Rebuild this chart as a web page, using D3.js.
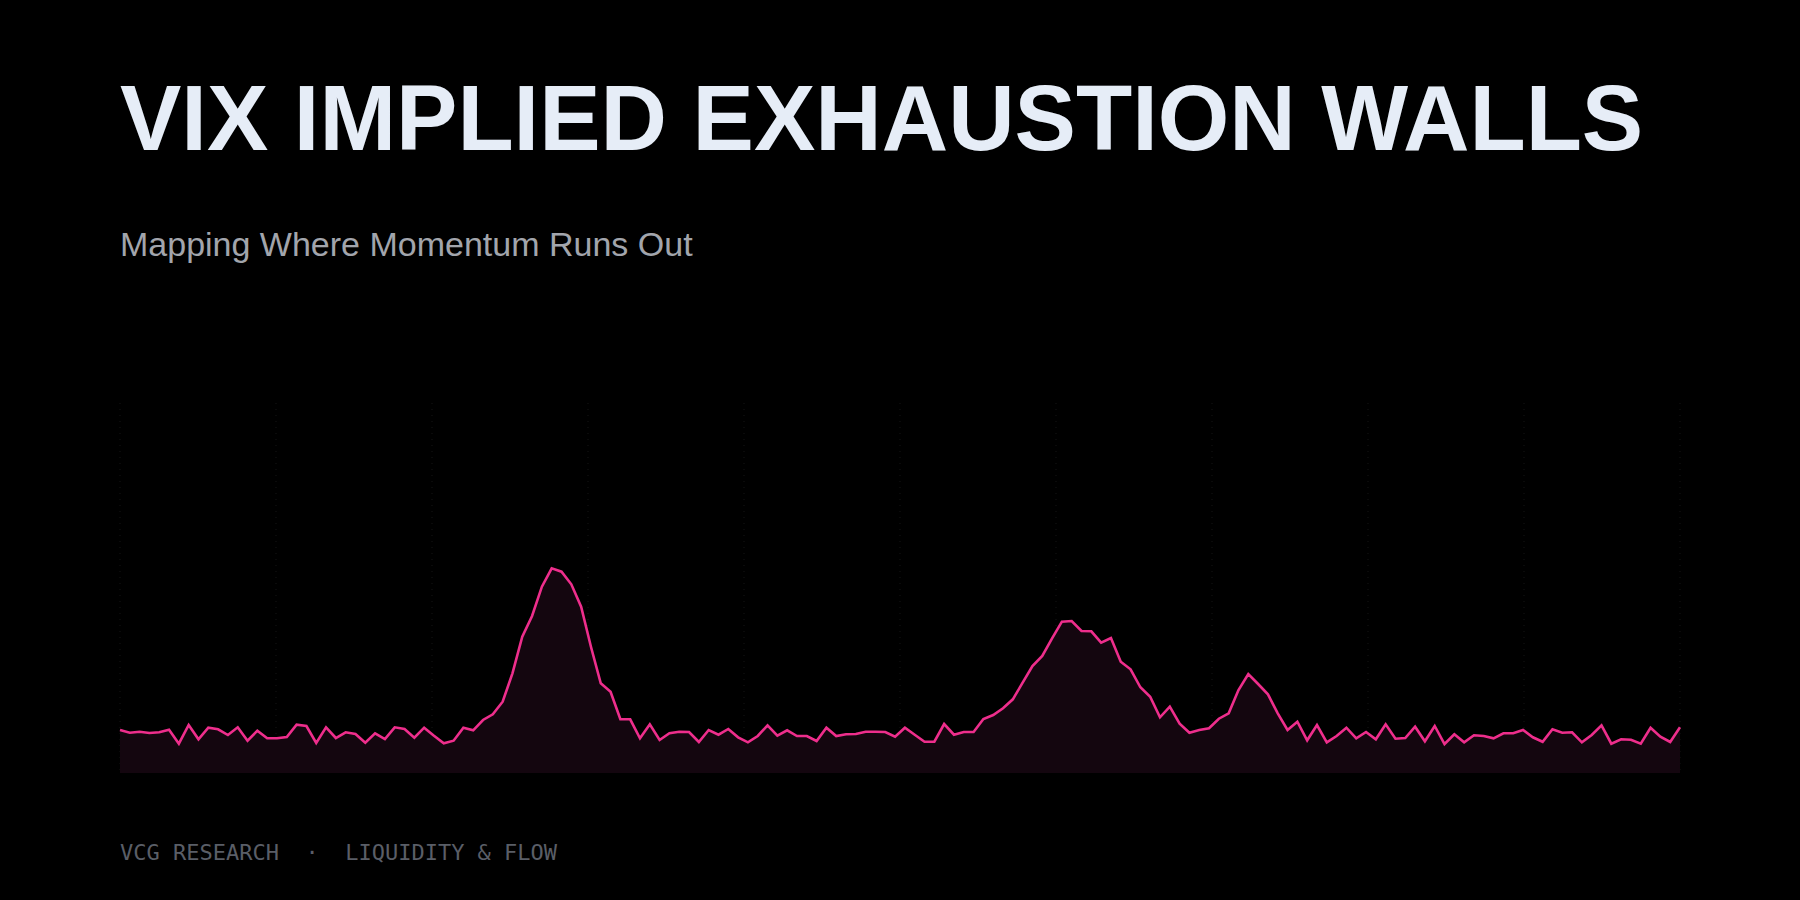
<!DOCTYPE html>
<html>
<head>
<meta charset="utf-8">
<script src="https://cdn.jsdelivr.net/npm/d3@7"></script>
<style>
  html, body { margin: 0; padding: 0; background: #000; }
  svg { display: block; }
</style>
</head>
<body>
<svg id="chart" width="1800" height="900"></svg>
<script>
const titleText = "VIX IMPLIED EXHAUSTION WALLS";
const subtitleText = "Mapping Where Momentum Runs Out";
const footerText = "VCG RESEARCH  \u00B7  LIQUIDITY & FLOW";

const exhaustion = [
  43, 40.3, 41.3, 40, 40.7, 43.3, 29.3, 48, 33.7, 45.3,
  43.7, 38, 45.7, 32.3, 42.3, 34.7, 34.7, 36, 48.3, 47,
  30, 45.7, 35, 40.7, 39, 30.3, 39.7, 34, 45.7, 44,
  35.3, 45.3, 37.3, 29.7, 32.3, 45.3, 42.7, 53, 58.7, 71.3,
  99.7, 136.3, 157, 186.3, 204.7, 201.3, 188.7, 166.3, 126.3, 89.7,
  81.3, 53.7, 53.7, 34.7, 48.7, 33, 39.7, 41.3, 41, 31,
  43, 38.3, 44, 35.7, 30.7, 37, 47.7, 37.3, 42.7, 37,
  37, 32, 45.3, 37, 38.7, 39, 41.3, 41.3, 41, 36.3,
  45.3, 38.3, 31.3, 31.3, 49, 38.3, 41, 41, 54, 58,
  64.7, 73.7, 90.3, 107, 117, 134.7, 151.3, 152, 142, 141.7,
  130.3, 135, 111.3, 103.7, 85.7, 76.3, 55.7, 66.3, 49.3, 40.3,
  43, 44.7, 54.3, 59.7, 83, 99, 89, 78.7, 59.7, 43,
  51.3, 32.7, 48, 30.7, 37, 45.3, 34.7, 41, 33.7, 48.7,
  34.3, 35, 46.3, 31.7, 47, 29, 38.7, 30.7, 37.7, 37,
  34.7, 39.7, 39.7, 43, 35.7, 31.2, 43.8, 40.3, 40.7, 30.7,
  38, 47.7, 29.3, 33.7, 33.3, 29.3, 45.3, 36.3, 31, 45.7
];
const yDomain = [0, 370];
const gridCount = 10;

const svg = d3.select("#chart");
const W = 1800, H = 900;
const plot = { left: 120, right: 1680, top: 403, bottom: 773 };

svg.append("rect").attr("width", W).attr("height", H).attr("fill", "#000");

const x = d3.scaleLinear().domain([0, exhaustion.length - 1]).range([plot.left, plot.right]);
const y = d3.scaleLinear().domain(yDomain).range([plot.bottom, plot.top]);

// faint dotted vertical grid
const gridVals = d3.range(gridCount + 1).map(k => k * (exhaustion.length - 1) / gridCount);
svg.append("g").selectAll("line").data(gridVals).join("line")
  .attr("x1", d => x(d)).attr("x2", d => x(d))
  .attr("y1", y(yDomain[1])).attr("y2", y(0))
  .attr("stroke", "#151515")
  .attr("stroke-width", 1)
  .attr("stroke-dasharray", "1,5");

const area = d3.area().x((d, i) => x(i)).y0(y(0)).y1(d => y(d));
const line = d3.line().x((d, i) => x(i)).y(d => y(d));

svg.append("path").datum(exhaustion).attr("d", area).attr("fill", "#14060f");
svg.append("path").datum(exhaustion).attr("d", line)
  .attr("fill", "none").attr("stroke", "#ee2e8c").attr("stroke-width", 2.6)
  .attr("stroke-linejoin", "miter");

svg.append("text").attr("x", 120).attr("y", 150)
  .attr("font-family", "'Liberation Sans', Arial, sans-serif")
  .attr("font-weight", 700).attr("font-size", 92)
  .attr("fill", "#e6edf7").text(titleText);

svg.append("text").attr("x", 120).attr("y", 256)
  .attr("font-family", "'Liberation Sans', Arial, sans-serif")
  .attr("font-size", 34)
  .attr("fill", "#a2a5ac").text(subtitleText);

svg.append("text").attr("x", 120).attr("y", 860)
  .attr("font-family", "'DejaVu Sans Mono', monospace")
  .attr("font-size", 22)
  .attr("fill", "#5a5e67")
  .style("white-space", "pre")
  .text(footerText);
</script>
</body>
</html>
